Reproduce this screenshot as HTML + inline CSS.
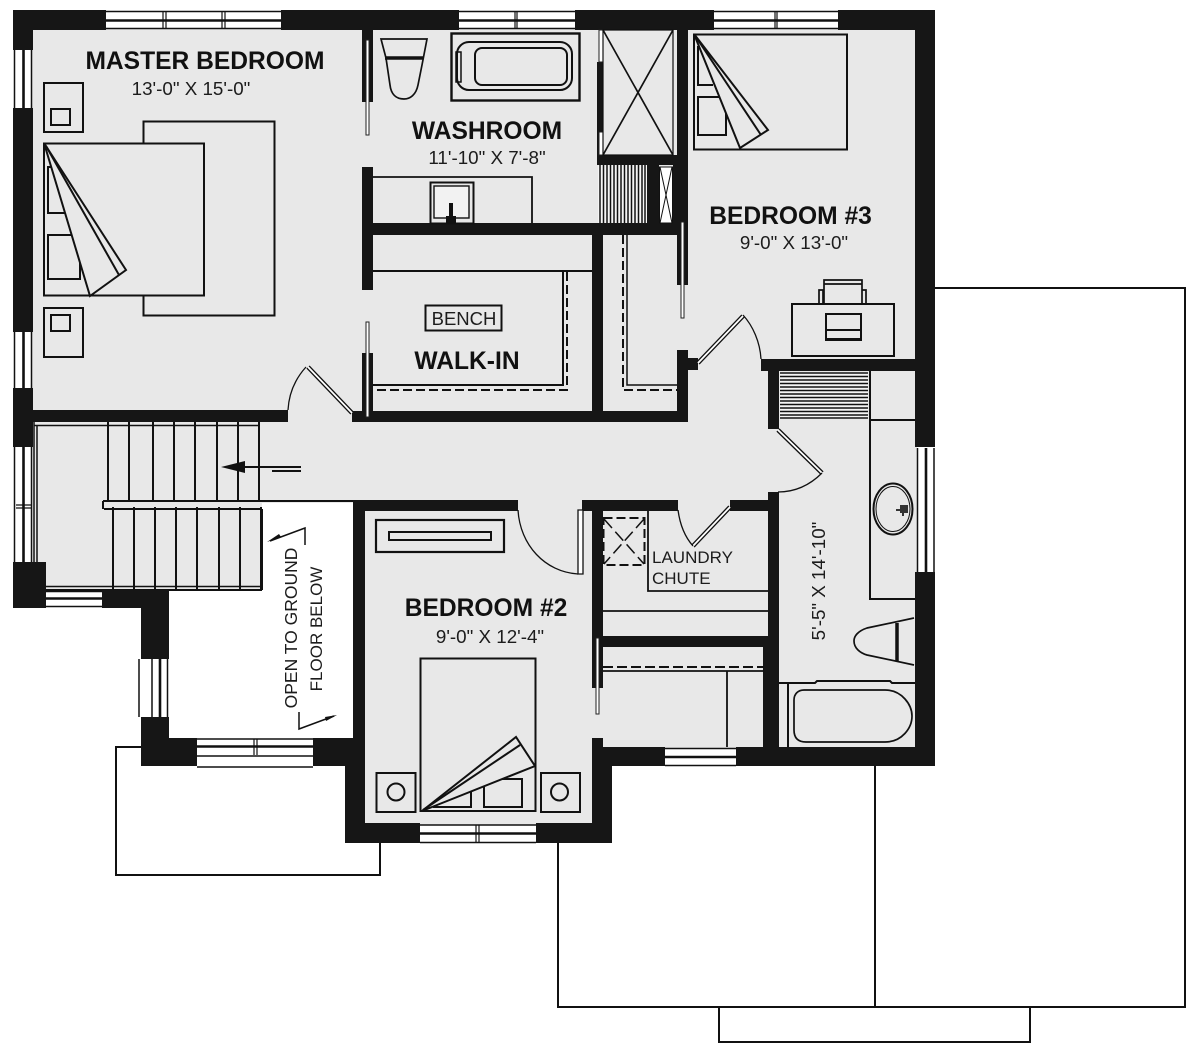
<!DOCTYPE html>
<html><head><meta charset="utf-8"><style>
html,body{margin:0;padding:0;background:#fff}
svg{display:block}
text{font-family:"Liberation Sans",sans-serif;fill:#1c1c1c}
.b{font-weight:bold;font-size:24.6px;fill:#111}
.d{font-size:18.8px}
.l{fill:none;stroke:#111;stroke-width:2}
.t{fill:none;stroke:#111;stroke-width:1.5}
.w{fill:#161616}
.win{fill:#fff}
.da{fill:none;stroke:#111;stroke-width:2;stroke-dasharray:9 4}
.s{fill:#e8e8e8;stroke:#111;stroke-width:2}
</style></head><body>
<svg width="1200" height="1055" viewBox="0 0 1200 1055" xmlns="http://www.w3.org/2000/svg">
<rect width="1200" height="1055" fill="#fff"/>
<!-- roof/porch outlines -->
<path class="l" d="M141 747H116V875H380V843"/>
<path class="l" d="M935 288H1185V1007H558V843M875 766V1007M719 1007V1042H1030V1007"/>
<!-- floor -->
<polygon fill="#e8e8e8" points="30,28 917,28 917,750 600,750 600,826 362,826 362,503 262,503 262,590 30,590"/>
<!-- windows -->
<g class="win">
<rect x="106" y="11" width="175" height="18"/><rect x="459" y="11" width="116" height="18"/><rect x="714" y="11" width="124" height="18"/>
<rect x="14" y="50" width="18" height="58"/><rect x="14" y="332" width="18" height="56"/><rect x="14" y="447" width="18" height="116"/>
<rect x="917" y="448" width="17" height="124"/><rect x="46" y="591" width="56" height="16"/><rect x="139" y="659" width="29" height="58"/>
<rect x="197" y="739" width="116" height="28"/><rect x="420" y="825" width="116" height="18"/><rect x="665" y="748" width="71" height="18"/>
</g>
<path class="t" d="M106 11.500H281M106 28.500H281M459 11.500H575M459 28.500H575M714 11.500H838M714 28.500H838M14.500 50V108M31.500 50V108M14.500 332V388M31.500 332V388M14.500 447V563M31.500 447V563M917.500 448V572M934 448V572M46 591.500H102M46 606.500H102M139 659V717M152 659V717M167.500 659V717M197 739H313M197 756H313M197 767H313M420 825H536M420 842.500H536M665 748.500H736M665 765.500H736"/>
<path fill="none" stroke="#111" stroke-width="2.600" d="M106 20.500H281M459 20.500H575M714 20.500H838M23.500 50V108M23.500 332V388M23.500 447V563M926 448V572M46 598.500H102M160 659V717M197 746.500H313M420 833.500H536M665 757H736"/>
<path fill="none" stroke="#111" stroke-width="1.200" d="M163 12V28M166 12V28M222 12V28M225 12V28M515 12V28M517 12V28M775 12V28M777 12V28M16 505H31M16 508H31M254 739V755M257 739V755M476 825V842M479 825V842"/>
<!-- stairs -->
<g class="l">
<path d="M108 422V502M129 422V502M153 422V502M174 422V502M195 422V502M217 422V502M238 422V502M259 422V502"/>
<path d="M113 507V590M134 507V590M155 507V590M176 507V590M197 507V590M219 507V590M240 507V590M261 507V590"/>
<path d="M103 501H354M104 509H262M103 501V509M262 509V590M34 590H262" stroke-width="2"/>
<path d="M34 425.500H259M34 422V590M37 426V586M37 586.500H262" stroke-width="1.500"/>
</g>
<path class="l" d="M245 467H301M272 471H301"/>
<polygon fill="#111" points="221,467 245,461 245,473"/>
<!-- walls -->
<path class="w" d="M13 10H106V30H33V50H13Z"/>
<path class="w" d="M281 10H459V30H281ZM575 10H714V30H575ZM838 10H935V447H915V30H838Z"/>
<path class="w" d="M13 108H33V332H13ZM13 388H33V447H13ZM13 562H46V608H13Z"/>
<rect class="w" x="33" y="410" width="255" height="12"/>
<rect class="w" x="352" y="411" width="336" height="11"/>
<rect class="w" x="362" y="353" width="11" height="69"/>
<path class="w" d="M362 30H373V102H362ZM362 167H373V223H678V235H373V290H362Z"/>
<path class="w" d="M592 235H603V412H592ZM677 30H688V285H677ZM605 155H677V165H597V155ZM597 62H603V155H597ZM647 165H659V223H647ZM673 165H677V223H673Z"/>
<path class="w" d="M677 350H688V358H698V370H688V422H677ZM761 359H915V371H761Z"/>
<path class="w" d="M768 371H779V429H768ZM768 492H779V747H763V640H768Z"/>
<path class="w" d="M355 500H518V511H365V742H353V500ZM582 500H678V511H603V636H768V647H603V688H592V511H582ZM730 500H768V511H730Z"/>
<path class="w" d="M915 572H935V766H736V747H915ZM592 738H603V747H665V766H612V843H536V823H592Z"/>
<path class="w" d="M313 738H353V742H365V823H420V843H345V766H313Z"/>
<path class="w" d="M102 590H169V659H141V608H102ZM141 717H169V738H197V766H141Z"/>
<!-- door leaves / sliding door insets -->
<g fill="none">
<path d="M308 367L352 413M698 363L743 316M778 430L822 473M730 507L693 546" stroke="#111" stroke-width="4.500"/>
<path d="M308 367L352 413M698 363L743 316M778 430L822 473M730 507L693 546" stroke="#fff" stroke-width="1.800"/>
<path d="M288 410C289 392 296 378 306 367M743 315C753 326 760 342 761 359M822 473C810 485 795 492 778 492M678 510C680 525 685 537 693 546M518 510C520 545 545 572 578 574" stroke="#111" stroke-width="1.300"/>
<path d="M583 510H578V574H583V510" stroke="#111" stroke-width="1.300" fill="#fff"/>
</g>
<g fill="#fff" stroke="#222" stroke-width="1">
<rect x="366" y="40" width="3" height="95"/><rect x="366" y="322" width="3" height="95"/>
<rect x="681" y="222" width="3" height="96"/><rect x="596" y="638" width="3" height="76"/>
<rect x="599" y="30" width="4" height="32"/><rect x="599" y="132" width="4" height="23"/>
</g>
<!-- Master bedroom -->
<rect class="l" x="143.500" y="121.500" width="131" height="194"/>
<rect x="44" y="143.500" width="160" height="152" class="s"/>
<g class="l">
<rect x="44" y="83" width="39" height="49"/><rect x="51" y="109" width="19" height="16"/>
<rect x="44" y="308" width="39" height="49"/><rect x="51" y="315" width="19" height="16"/>
<path d="M54 167H48V213H66"/><rect x="48" y="235" width="32" height="44"/>
<polygon points="44,143 126,270 90,296" class="s"/>
<path d="M46 146L119 275"/>
</g>
<!-- Washroom -->
<g class="l">
<path d="M381 39H427L422 65C420 75 419 80 418 85C416 95 410 99 404 99C396 99 391 94 390 85L386 58Z" stroke-width="1.700"/>
<path d="M385 58H423" stroke-width="3.500"/>
<rect x="451.500" y="33.500" width="128" height="67" stroke-width="2.400"/>
<rect x="457" y="42" width="115" height="48" rx="12"/>
<rect x="475" y="48" width="92" height="37" rx="7"/>
<rect x="456" y="52" width="5" height="30" stroke-width="1.500"/>
<path d="M603 30L673 155M673 30L603 155" stroke-width="1.700"/>
<rect x="603" y="30" width="70" height="125" stroke-width="1.200"/>
<path d="M373 177H532V223" stroke-width="1.800"/>
<rect x="430.500" y="182.500" width="43" height="41" stroke-width="2"/>
<rect x="434" y="186" width="35" height="32" stroke-width="1.400" fill="#f2f2f2"/>
<rect x="659.500" y="167" width="13" height="56" fill="#fff" stroke-width="1"/>
<path d="M660 167L672 223M672 167L660 223" stroke-width="1"/>
<path d="M373 271H592M563 271V385H373"/>
<path class="da" d="M567 272V390H373M623 235V390H677"/>
<rect x="425.500" y="305.500" width="76" height="25"/>
</g>
<path fill="#111" d="M449 203H453V216H456V223H446V216H449Z"/>
<rect x="598" y="165" width="49" height="58" fill="#f4f4f4"/>
<path stroke="#111" stroke-width="1.500" d="M600 165V223M603.500 165V223M607 165V223M610.500 165V223M614 165V223M617.500 165V223M621 165V223M624.500 165V223M628 165V223M631.500 165V223M635 165V223M638.500 165V223M642 165V223M645 165V223"/>
<path class="t" d="M627 235V385H677"/>
<!-- Bedroom 3 -->
<g class="l">
<rect x="694" y="34.500" width="153" height="115"/>
<path d="M702 47H698V85H713"/><rect x="698" y="97" width="28" height="38"/>
<polygon points="694,34 768,130 740,148" class="s"/>
<path d="M696 37L761 135"/>
<rect x="792" y="304" width="102" height="52" fill="#e8e8e8"/>
<path d="M824 304V280H862V304M823 304V290H819V304M862 304V290H866V304M824 284H862" stroke-width="1.700"/>
<rect x="826" y="314" width="35" height="26"/>
<path d="M826 330H861M826 339H861"/>
</g>
<!-- bath -->
<rect x="780" y="372" width="88" height="47" fill="#f4f4f4"/>
<path stroke="#111" stroke-width="1.500" d="M780 373H868M780 376.500H868M780 380H868M780 383.500H868M780 387H868M780 390.500H868M780 394H868M780 397.500H868M780 401H868M780 404.500H868M780 408H868M780 411.500H868M780 415H868M780 418H868"/>
<g class="l">
<path d="M870 371V599H915M870 420H915"/>
<ellipse cx="893" cy="509" rx="19.500" ry="25.500"/>
<ellipse cx="893" cy="509" rx="17" ry="22.500" stroke-width="1"/>
<path d="M914 618L867 628C858 631 854 636 854 641C854 648 860 653 867 655L914 665" stroke-width="1.700"/>
<path d="M897 623V661" stroke-width="3.500"/>
<path d="M779 683H815L817 681H890L892 683H915M788 683V747"/>
<path d="M804 690H885C902 690 912 705 912 716C912 728 902 742 885 742H806C798 742 794 738 794 730V700C794 694 798 690 804 690Z" stroke-width="1.700"/>
</g>
<path fill="#333" d="M900 505H908V513H900ZM896 509H900V511H896ZM902 511H904V516H902Z"/>
<!-- laundry -->
<g class="l">
<path d="M648 511V591H768M603 611H768M603 671H764M727 671V747" stroke-width="1.800"/>
<rect x="603.500" y="518" width="41" height="47" stroke-dasharray="9 4"/>
<path d="M604 519L644 564M644 519L604 564" stroke-width="1.500" stroke-dasharray="12 5"/>
<path d="M603 667H764" stroke-dasharray="10 4"/>
</g>
<!-- Bedroom 2 -->
<g class="l">
<rect x="376" y="520" width="128" height="32" stroke-width="2.200"/>
<rect x="389" y="532" width="102" height="8"/>
<rect x="420.500" y="658.500" width="115" height="152.500"/>
<rect x="376.500" y="773" width="39" height="39"/><circle cx="396" cy="792" r="8.500"/>
<rect x="541" y="773" width="39" height="39"/><circle cx="559.500" cy="792" r="8.500"/>
<path d="M433 807H471V791"/><rect x="484" y="779" width="38" height="28"/>
<polygon points="422,811 516,737 535,766" class="s"/>
<path d="M423 810L520 745"/>
</g>
<!-- open arrows -->
<path class="t" d="M305 545V528L270 541"/><polygon fill="#111" points="267,542 279,534 281,537"/>
<path class="t" d="M299 712V729L334 716"/><polygon fill="#111" points="337,715 325,717 326,721"/>
<!-- labels -->
<text class="b" x="205" y="69" text-anchor="middle">MASTER BEDROOM</text>
<text class="d" x="191" y="95" text-anchor="middle">13'-0" X 15'-0"</text>
<text class="b" x="487" y="139" text-anchor="middle">WASHROOM</text>
<text class="d" x="487" y="164" text-anchor="middle">11'-10" X 7'-8"</text>
<text class="b" x="790.500" y="224" text-anchor="middle">BEDROOM #3</text>
<text class="d" x="794" y="249" text-anchor="middle">9'-0" X 13'-0"</text>
<text class="b" x="486" y="616" text-anchor="middle">BEDROOM #2</text>
<text class="d" x="490" y="643" text-anchor="middle">9'-0" X 12'-4"</text>
<text class="b" x="467" y="369" text-anchor="middle">WALK-IN</text>
<text x="464" y="325" text-anchor="middle" font-size="18.500">BENCH</text>
<text x="652" y="563" font-size="17">LAUNDRY</text>
<text x="652" y="584" font-size="17">CHUTE</text>
<text transform="translate(825 581) rotate(-90)" class="d" text-anchor="middle">5'-5" X 14'-10"</text>
<text transform="translate(297 628) rotate(-90)" text-anchor="middle" font-size="17.500">OPEN TO GROUND</text>
<text transform="translate(322 629) rotate(-90)" text-anchor="middle" font-size="17">FLOOR BELOW</text>
</svg>
</body></html>
